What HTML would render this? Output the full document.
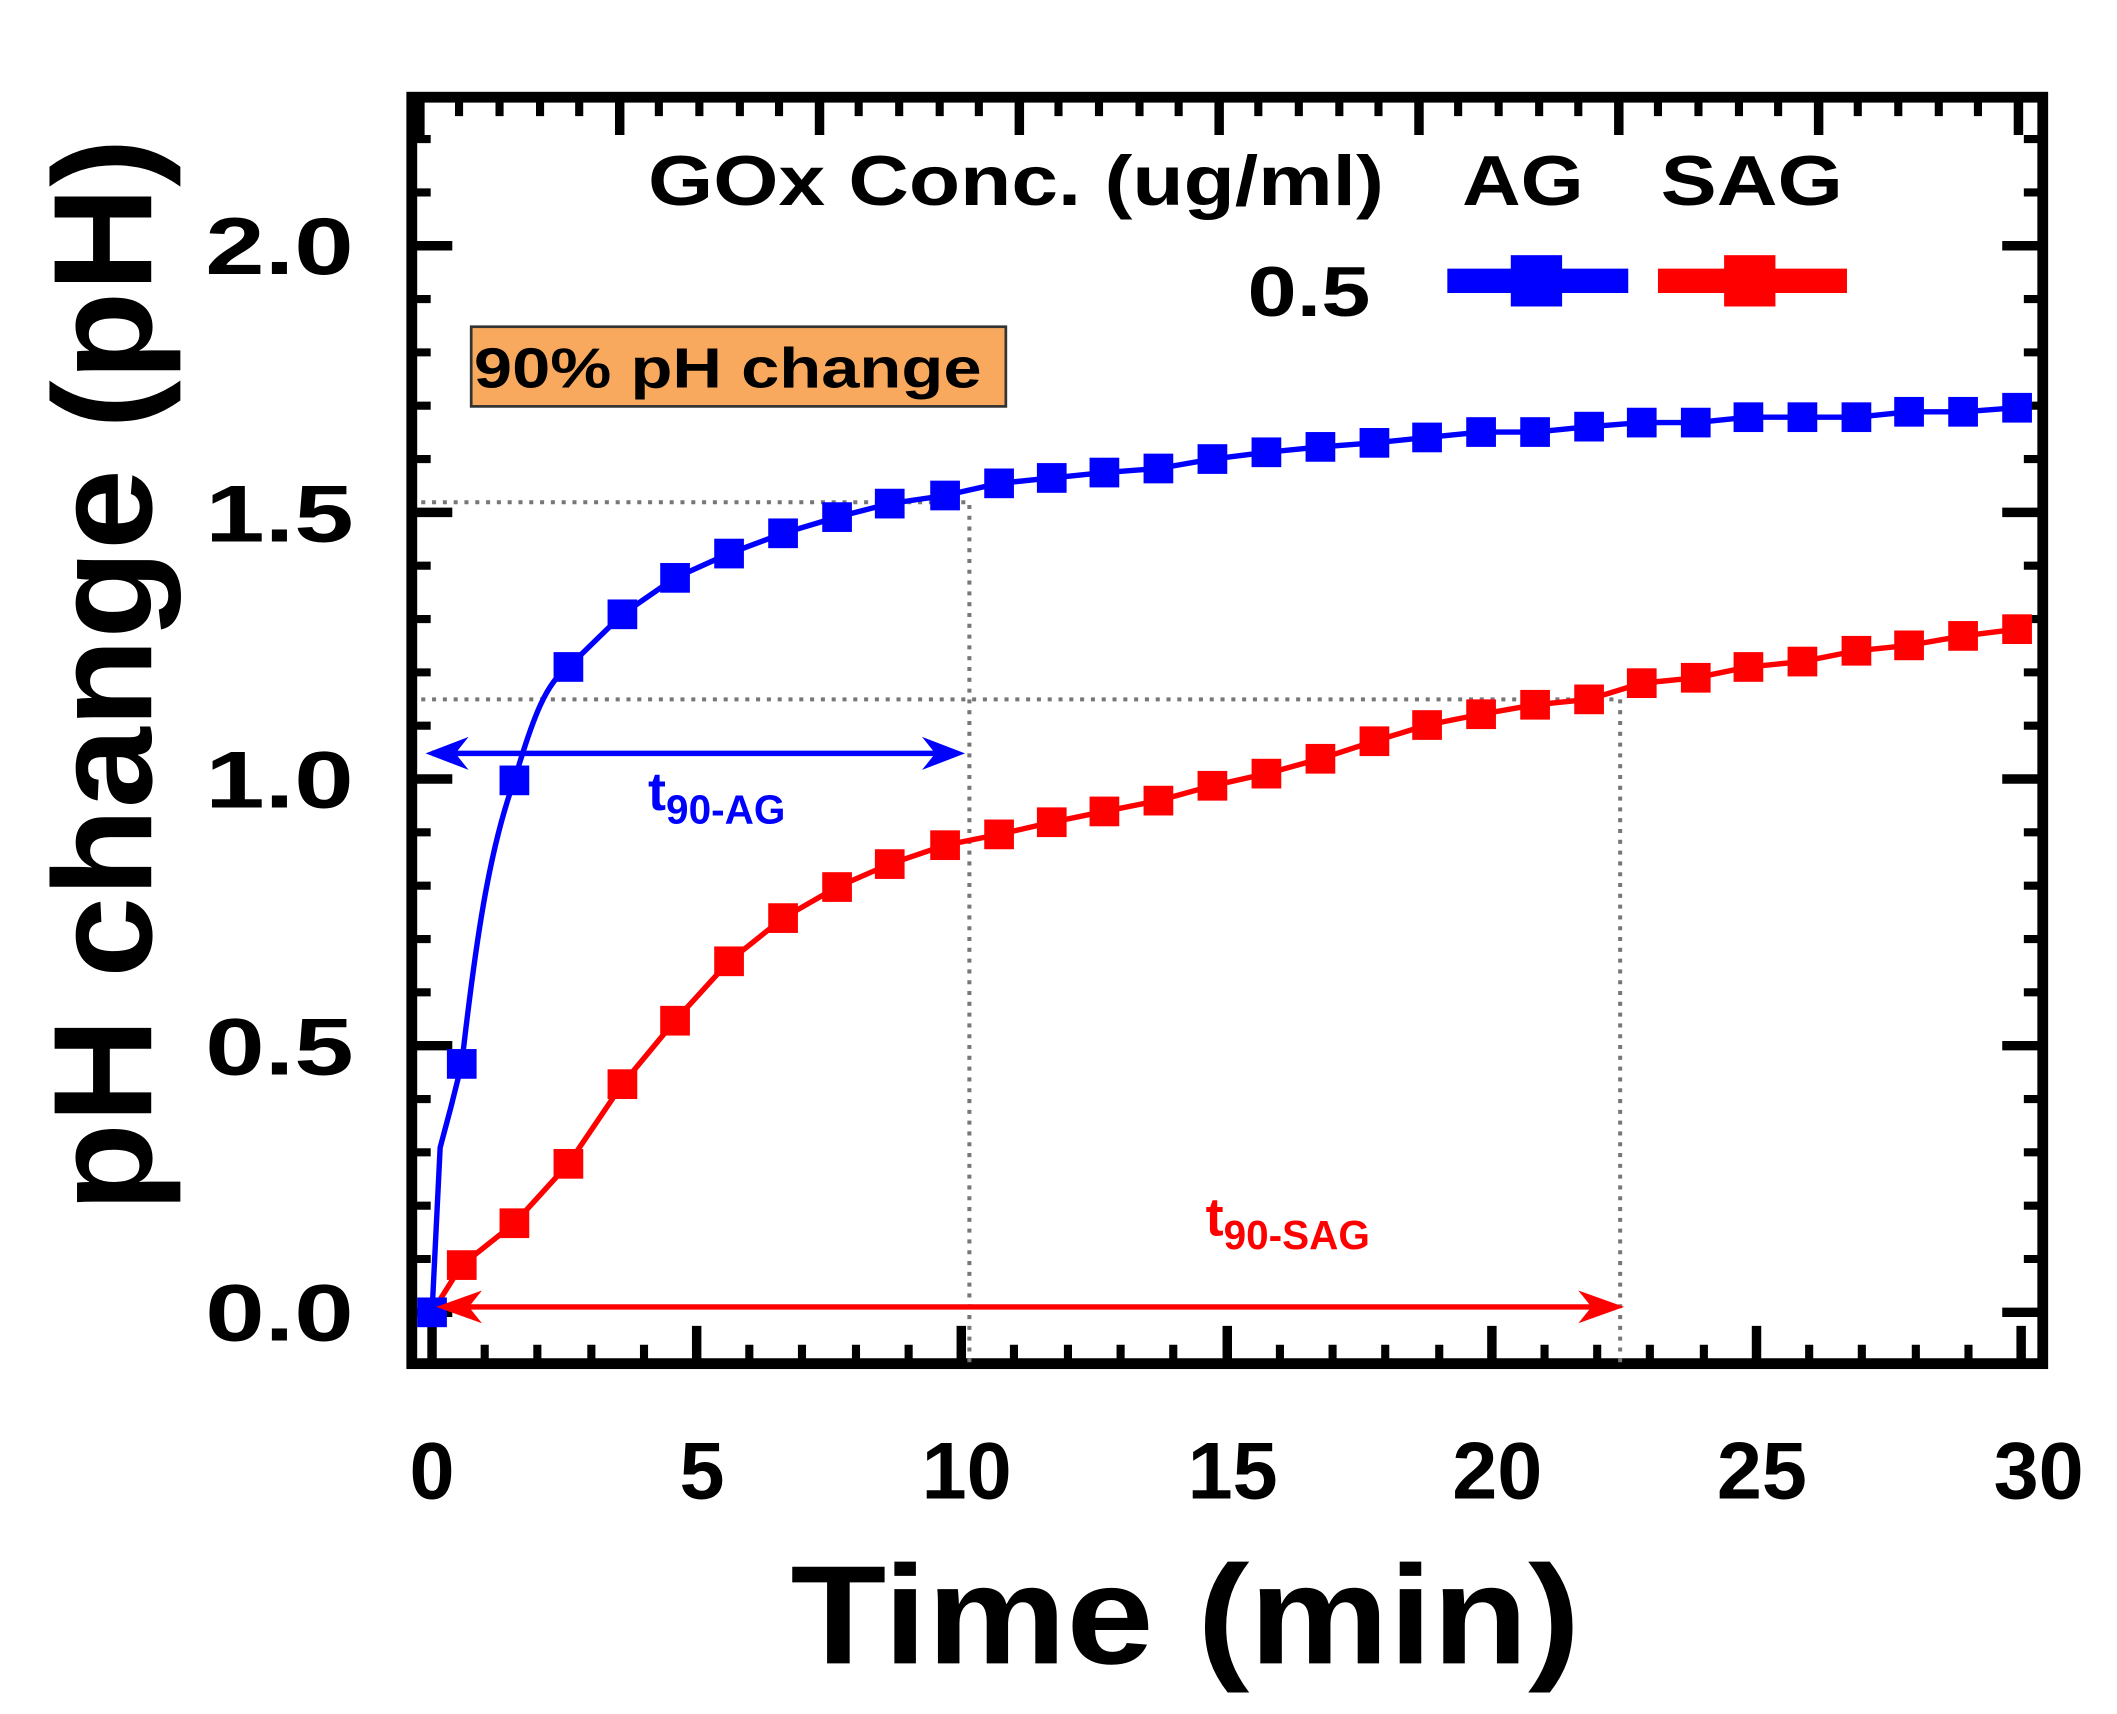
<!DOCTYPE html>
<html><head><meta charset="utf-8"><style>html,body{margin:0;padding:0;background:#fff}svg{display:block}</style></head>
<body>
<svg width="2117" height="1714" viewBox="0 0 1568 1269.5" preserveAspectRatio="none" xmlns="http://www.w3.org/2000/svg" font-family="'Liberation Sans',sans-serif">
<defs>
<marker id="ab" viewBox="0 0 10 10" refX="9" refY="5" markerWidth="7" markerHeight="5" orient="auto-start-reverse" markerUnits="userSpaceOnUse"><path d="M0,0 L10,5 L0,10 L3,5z" fill="#0000ff"/></marker>
</defs>
<g id="ticks" stroke="#000" stroke-width="7">
<path d="M320,1010v-28M516,1010v-28M712,1010v-28M909,1010v-28M1105,1010v-28M1301,1010v-28M1497,1010v-28"/>
<path stroke-width="6" d="M359,1010v-14M398,1010v-14M438,1010v-14M477,1010v-14M555,1010v-14M594,1010v-14M634,1010v-14M673,1010v-14M751,1010v-14M791,1010v-14M830,1010v-14M869,1010v-14M948,1010v-14M987,1010v-14M1026,1010v-14M1066,1010v-14M1144,1010v-14M1183,1010v-14M1222,1010v-14M1262,1010v-14M1340,1010v-14M1379,1010v-14M1419,1010v-14M1458,1010v-14"/>
<path d="M311,72v28M459,72v28M607,72v28M755,72v28M903,72v28M1051,72v28M1199,72v28M1347,72v28M1495,72v28"/>
<path stroke-width="6" d="M340,72v14M370,72v14M400,72v14M429,72v14M488,72v14M518,72v14M548,72v14M577,72v14M636,72v14M666,72v14M696,72v14M725,72v14M784,72v14M814,72v14M844,72v14M873,72v14M932,72v14M962,72v14M992,72v14M1021,72v14M1080,72v14M1110,72v14M1140,72v14M1169,72v14M1228,72v14M1258,72v14M1288,72v14M1317,72v14M1376,72v14M1406,72v14M1436,72v14M1465,72v14"/>
<path d="M305,972h30M305,774.5h30M305,577h30M305,379.5h30M305,182h30M1513,972h-30M1513,774.5h-30M1513,577h-30M1513,379.5h-30M1513,182h-30"/>
<path stroke-width="6" d="M305,932.5h14M305,893h14M305,853.5h14M305,814h14M305,735h14M305,695.5h14M305,656h14M305,616.5h14M305,537.5h14M305,498h14M305,458.5h14M305,419h14M305,340h14M305,300.5h14M305,261h14M305,221.5h14M305,142.5h14M305,103h14M1513,932.5h-14M1513,893h-14M1513,853.5h-14M1513,814h-14M1513,735h-14M1513,695.5h-14M1513,656h-14M1513,616.5h-14M1513,537.5h-14M1513,498h-14M1513,458.5h-14M1513,419h-14M1513,340h-14M1513,300.5h-14M1513,261h-14M1513,221.5h-14M1513,142.5h-14M1513,103h-14"/>
</g>
<rect x="305" y="72" width="1208" height="938" fill="none" stroke="#000" stroke-width="8"/>
<g stroke="#777" stroke-width="3" stroke-dasharray="3,5" fill="none">
<path d="M312,372H718V1010"/><path d="M312,518H1200V1010"/>
</g>
<!-- red series -->
<g fill="#ff0000">
<polyline fill="none" stroke="#ff0000" stroke-width="4" points="320,972 342,937 381,906 421,862 461,803 500,756 540,712 580,680 620,657 659,640 700,626 740,618 779,609 818,601 858,593 898,582 938,573 978,562 1018,549 1057,537 1097,529 1137,522 1177,518 1216,506 1256,502 1295,494 1335,490 1375,482 1414,478 1454,471 1494,466"/>
<g transform="translate(-11,-11)">
<rect x="342" y="937" width="22" height="22"/><rect x="381" y="906" width="22" height="22"/><rect x="421" y="862" width="22" height="22"/><rect x="461" y="803" width="22" height="22"/><rect x="500" y="756" width="22" height="22"/><rect x="540" y="712" width="22" height="22"/><rect x="580" y="680" width="22" height="22"/><rect x="620" y="657" width="22" height="22"/><rect x="659" y="640" width="22" height="22"/><rect x="700" y="626" width="22" height="22"/><rect x="740" y="618" width="22" height="22"/><rect x="779" y="609" width="22" height="22"/><rect x="818" y="601" width="22" height="22"/><rect x="858" y="593" width="22" height="22"/><rect x="898" y="582" width="22" height="22"/><rect x="938" y="573" width="22" height="22"/><rect x="978" y="562" width="22" height="22"/><rect x="1018" y="549" width="22" height="22"/><rect x="1057" y="537" width="22" height="22"/><rect x="1097" y="529" width="22" height="22"/><rect x="1137" y="522" width="22" height="22"/><rect x="1177" y="518" width="22" height="22"/><rect x="1216" y="506" width="22" height="22"/><rect x="1256" y="502" width="22" height="22"/><rect x="1295" y="494" width="22" height="22"/><rect x="1335" y="490" width="22" height="22"/><rect x="1375" y="482" width="22" height="22"/><rect x="1414" y="478" width="22" height="22"/><rect x="1454" y="471" width="22" height="22"/><rect x="1494" y="466" width="22" height="22"/>
</g></g>
<!-- blue series -->
<g fill="#0000ff">
<path fill="none" stroke="#0000ff" stroke-width="4" d="M320,972 L326,850 L334,820 L342,788 C352,700 362,630 381,578 C395,530 405,505 421,494 L461,455 500,428 540,410 580,395 620,383 659,373 700,367 740,358 779,354 818,350 858,347 898,340 938,335 978,331 1018,328 1057,324 1097,320 1137,320 1177,316 1216,313 1256,313 1295,309 1335,309 1375,309 1414,305 1454,305 1494,302"/>
<g transform="translate(-11,-11)">
<rect x="320" y="972" width="22" height="22"/><rect x="342" y="788" width="22" height="22"/><rect x="381" y="578" width="22" height="22"/><rect x="421" y="494" width="22" height="22"/><rect x="461" y="455" width="22" height="22"/><rect x="500" y="428" width="22" height="22"/><rect x="540" y="410" width="22" height="22"/><rect x="580" y="395" width="22" height="22"/><rect x="620" y="383" width="22" height="22"/><rect x="659" y="373" width="22" height="22"/><rect x="700" y="367" width="22" height="22"/><rect x="740" y="358" width="22" height="22"/><rect x="779" y="354" width="22" height="22"/><rect x="818" y="350" width="22" height="22"/><rect x="858" y="347" width="22" height="22"/><rect x="898" y="340" width="22" height="22"/><rect x="938" y="335" width="22" height="22"/><rect x="978" y="331" width="22" height="22"/><rect x="1018" y="328" width="22" height="22"/><rect x="1057" y="324" width="22" height="22"/><rect x="1097" y="320" width="22" height="22"/><rect x="1137" y="320" width="22" height="22"/><rect x="1177" y="316" width="22" height="22"/><rect x="1216" y="313" width="22" height="22"/><rect x="1256" y="313" width="22" height="22"/><rect x="1295" y="309" width="22" height="22"/><rect x="1335" y="309" width="22" height="22"/><rect x="1375" y="309" width="22" height="22"/><rect x="1414" y="305" width="22" height="22"/><rect x="1454" y="305" width="22" height="22"/><rect x="1494" y="302" width="22" height="22"/>
</g></g>
<!-- arrows -->
<g stroke-width="4" fill="none">
<path d="M320,558 H700" stroke="#0000ff"/>
<path d="M318,558 l26,-10 l-8,10 l8,10z M712,558 l-26,-10 l8,10 l-8,10z" fill="#0000ff" stroke="#0000ff" stroke-width="2"/>
<path d="M330,968 H1190" stroke="#ff0000"/>
<path d="M326,968 l28,-10 l-8,10 l8,10z M1200,968 l-28,-10 l8,10 l-8,10z" fill="#ff0000" stroke="#ff0000" stroke-width="2"/>
</g>
<text x="480" y="600" fill="#0000ff" font-weight="bold" font-size="40">t<tspan font-size="30" dy="10">90-AG</tspan></text>
<text x="893" y="915" fill="#ff0000" font-weight="bold" font-size="40">t<tspan font-size="30" dy="10">90-SAG</tspan></text>
<!-- label box -->
<rect x="349" y="242" width="396" height="59" fill="#F9A95E" stroke="#333" stroke-width="2"/>
<text x="351" y="287" font-size="42" font-weight="bold" textLength="376" lengthAdjust="spacingAndGlyphs">90% pH change</text>
<!-- legend -->
<text x="480" y="152" font-size="52" font-weight="bold" textLength="545" lengthAdjust="spacingAndGlyphs">GOx Conc. (ug/ml)</text>
<text x="1083" y="152" font-size="52" font-weight="bold" textLength="90" lengthAdjust="spacingAndGlyphs">AG</text>
<text x="1230" y="152" font-size="52" font-weight="bold" textLength="135" lengthAdjust="spacingAndGlyphs">SAG</text>
<text x="924" y="234" font-size="52" font-weight="bold" textLength="91" lengthAdjust="spacingAndGlyphs">0.5</text>
<path d="M1072,208H1206" stroke="#0000ff" stroke-width="18"/><rect x="1119" y="189" width="38" height="38" fill="#0000ff"/>
<path d="M1228,208H1368" stroke="#ff0000" stroke-width="18"/><rect x="1277" y="189" width="38" height="38" fill="#ff0000"/>
<!-- tick labels -->
<g font-size="60" font-weight="bold" text-anchor="end">
<text x="262" y="993" textLength="110" lengthAdjust="spacingAndGlyphs">0.0</text>
<text x="262" y="796" textLength="110" lengthAdjust="spacingAndGlyphs">0.5</text>
<text x="262" y="598" textLength="110" lengthAdjust="spacingAndGlyphs">1.0</text>
<text x="262" y="401" textLength="110" lengthAdjust="spacingAndGlyphs">1.5</text>
<text x="262" y="203" textLength="110" lengthAdjust="spacingAndGlyphs">2.0</text>
</g>
<g font-size="60" font-weight="bold" text-anchor="middle">
<text x="320" y="1110">0</text><text x="520" y="1110">5</text><text x="716" y="1110">10</text><text x="913" y="1110">15</text><text x="1109" y="1110">20</text><text x="1305" y="1110">25</text><text x="1510" y="1110">30</text>
</g>
<text x="878" y="1232" font-size="104" font-weight="bold" text-anchor="middle" textLength="585" lengthAdjust="spacingAndGlyphs">Time (min)</text>
<text transform="translate(112,500) rotate(-90)" font-size="104" font-weight="bold" text-anchor="middle" textLength="795" lengthAdjust="spacingAndGlyphs">pH change (pH)</text>
</svg>
</body></html>
